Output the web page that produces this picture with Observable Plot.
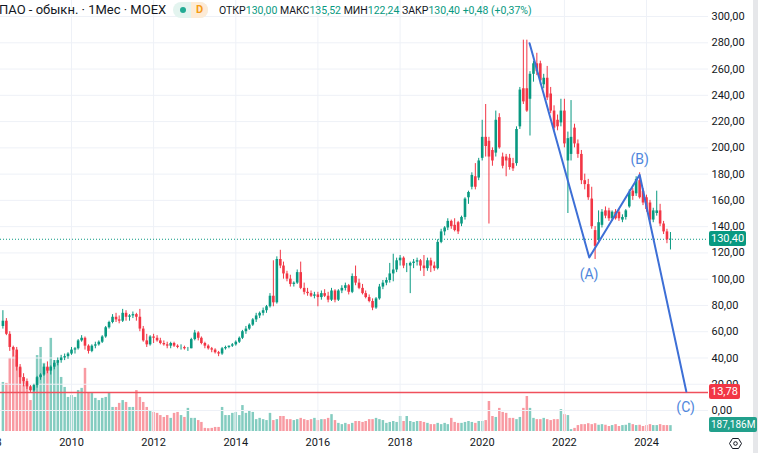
<!DOCTYPE html>
<html><head><meta charset="utf-8">
<script src="https://cdn.jsdelivr.net/npm/d3@7"></script>
<script src="https://cdn.jsdelivr.net/npm/@observablehq/plot@0.6"></script>
<style>
html,body{margin:0;padding:0;background:#fff;}
#wrap{position:relative;width:758px;height:453px;overflow:hidden;background:#fff;font-family:Roboto,"Noto Sans",sans-serif;}
#wrap svg{position:absolute;left:0;top:0;}
.hdr{position:absolute;top:2px;white-space:nowrap;color:#131722;}
.box{position:absolute;color:#fff;font-size:11px;line-height:15px;height:15px;padding:0 2px;border-radius:2px;white-space:nowrap;font-family:Roboto,sans-serif;}
.g{color:#089981}
</style>
</head><body>
<div id="wrap"></div>
<script>
// Monthly candles, May 2008 .. Aug 2024
const firstMonth = "2008-05-01";
const open = [
 64,68,58,48,46,33,25,22,
 18,15,19,25,27,33,30,33,36,38,40,41,
 43,46,47,53,55,49,45,49,50,52,56,63,
 67,71,69,68,74,71,72,73,71,62,53,50,
 56,55,53,51,50,49,51,49,48,48,47,47,
 54,59,55,51,49,47,46,44,43,47,48,49,
 50,52,55,60,62,65,69,72,74,76,79,87,
 82,115,110,104,100,96,97,105,93,90,89,87,
 88,86,89,87,84,91,84,91,93,95,90,102,
 97,93,89,86,83,78,85,94,97,99,104,107,
 114,116,110,110,112,113,114,110,108,114,110,108,
 128,136,139,144,141,143,142,147,162,170,178,177,
 192,208,205,198,196,223,193,193,192,188,188,216,
 245,245,237,256,264,264,248,253,241,228,221,219,
 228,190,195,215,203,195,175,172,161,137,130,141,
 152,152,146,151,151,145,147,155,167,165,175,167,
 162,158,145,150,152,142,136,130];
const high = [
 76,70,60,49,48,35,28,24,
 19,20,26,28,35,37,34,38,40,42,43,44,
 48,48,54,57,56,50,50,52,53,57,64,68,
 73,74,72,77,76,73,75,74,77,64,58,57,
 58,57,55,53,52,52,52,50,50,49,48,55,
 61,60,56,52,50,48,47,45,48,49,49,51,
 53,56,61,64,66,70,74,75,78,80,89,114,
 117,122,113,106,103,98,107,113,97,93,91,90,
 90,91,92,90,93,92,92,95,97,96,104,110,
 100,96,91,88,85,86,96,99,101,112,119,116,
 118,117,112,113,115,116,115,118,116,116,113,130,
 138,140,146,145,146,144,148,162,167,181,188,192,
 221,233,208,200,228,226,196,195,195,192,216,246,
 282,282,258,266,272,266,256,262,246,232,225,237,
 237,212,236,218,206,198,180,176,170,140,152,153,
 155,154,152,153,153,149,153,168,169,178,181,169,
 164,160,154,167,157,144,138,135.52];
const low = [
 62,57,45,41,30,20,18,16,
 13.8,14,17,23,26,28,27,31,34,36,38,39,
 42,43,46,52,46,43,44,47,49,51,55,62,
 66,67,66,67,68,68,70,68,60,52,48,49,
 51,52,50,49,47,47,48,47,46,46,45,47,
 53,53,50,47,46,44,43,41,42,46,47,48,
 49,51,54,58,61,64,67,70,72,74,78,79,
 81,108,100,98,94,94,96,92,88,87,86,85,
 79,84,86,82,83,82,83,89,91,88,89,95,
 92,88,85,82,76,77,84,92,95,97,98,105,
 110,108,105,89,108,110,106,102,106,105,106,107,
 127,133,137,138,136,134,140,145,157,168,168,175,
 190,193,142,186,193,199,184,178,183,182,186,214,
 233,227,209,250,255,248,245,236,226,213,213,216,
 200,150,190,200,192,172,168,160,138,115,127,139,
 146,144,144,145,144,143,145,154,160,163,161,156,
 151,143,143,148,140,134,127,122.24];
const close = [
 68,58,48,46,33,25,22,18,
 15,19,25,27,33,30,33,36,38,40,41,43,
 46,47,53,55,49,45,49,50,52,56,63,67,
 71,69,68,74,71,72,73,71,62,53,50,56,
 55,53,51,50,49,51,49,48,48,47,47,54,
 59,55,51,49,47,46,44,43,47,48,49,50,
 52,55,60,62,65,69,72,74,76,79,87,82,
 115,110,104,100,96,97,105,93,90,89,87,88,
 86,89,87,84,91,84,91,93,95,90,102,97,
 93,89,86,83,78,85,94,97,99,104,107,114,
 116,110,110,112,113,114,110,108,114,110,108,128,
 136,139,144,140,137,136,147,161,166,179,170,190,
 208,201,193,190,221,200,186,190,185,184,214,244,
 235,228,256,264,258,251,253,238,228,215,216,228,
 203,207,208,203,195,175,172,162,140,125,143,151,
 148,146,151,146,146,147,152,166,163,176,162,158,
 153,145,152,152,142,136,129.92,130.4];
// volume, millions of shares
const volume = [
 1570,1540,2340,2660,2430,2020,1730,1540,
 990,1310,2430,2690,2180,2020,2980,2270,2210,1730,1410,1090,
 1150,1090,1310,1380,2020,1220,1220,1060,990,1060,1090,1220,
 770,770,900,990,930,770,770,1310,1090,930,770,670,
 610,580,510,450,510,420,580,610,510,450,740,420,
 420,350,290,100,90,100,130,130,770,510,510,580,
 610,510,830,580,670,610,380,420,380,350,580,350,
 380,480,480,380,380,350,380,420,380,350,380,420,
 350,380,380,420,540,350,260,220,260,220,260,320,
 320,290,320,380,380,420,380,350,260,290,320,290,
 480,320,480,320,290,320,320,290,260,220,220,260,
 220,260,220,420,290,260,260,290,320,290,260,320,
 320,350,960,480,450,740,610,580,420,420,380,450,
 740,1120,740,420,380,380,420,380,350,380,380,700,
 540,510,60,100,190,220,220,250,220,250,200,220,
 200,160,190,220,160,190,200,260,220,190,200,160,
 190,220,190,190,220,190,190,187.186];

// Elliott wave annotation
const waveDates  = ["2021-02-25","2022-08-10","2023-11-01","2024-12-20"];
const waveValues = [279.7, 116.5, 179.5, 14.5];
const waveLabels = ["(A)","(B)","(C)"];
const waveLabelDates  = ["2022-08-08","2023-11-02","2024-12-14"];
const waveLabelValues = [103.5, 191, 2.3];

const targetLevel = 13.78;
const lastPrice = 130.40;
const yTicks = [0,20,40,60,80,100,120,140,160,180,200,220,240,260,280,300];
const yearTicks = [2008,2010,2012,2014,2016,2018,2020,2022,2024];

// ---------------------------------------------------------
const up = "#089981", dn = "#f23645";
const months = d3.utcMonth.range(new Date(firstMonth), d3.utcMonth.offset(new Date(firstMonth), open.length));
const bars = months.map((d,i)=>({date:d, o:open[i], h:high[i], l:low[i], c:close[i], v:volume[i], up: close[i] >= open[i]}));
const yearDates = yearTicks.map(y=>new Date(Date.UTC(y,0,1)));
const W = 758, H = 453, MR = 50, MB = 21;
const t2010 = Date.UTC(2010,0,1), t2024 = Date.UTC(2024,0,1);
const k = (t2024 - t2010)/(646-71);
const xDomain = [new Date(t2010 - 71*k), new Date(t2010 + (W-MR-71)*k)];
const fmt = v => d3.format(".2f")(v).replace(".", ",");

const vol = Plot.plot({
  width: W, height: H, marginLeft: 0, marginRight: MR, marginTop: 331, marginBottom: 22,
  style: {background:"transparent"},
  x: {type:"utc", domain: xDomain, axis: null},
  y: {domain:[0,3200], axis: null},
  marks: [
    Plot.ruleX(bars, {x:"date", y1:0, y2:"v", stroke: d=>d.up ? "#84ccc0" : "#f89aa2", strokeWidth: 2.5})
  ]
});

const wave = waveDates.map((d,i)=>({date:new Date(d), v:waveValues[i]}));
const waveLab = waveLabels.map((t,i)=>({date:new Date(waveLabelDates[i]), v:waveLabelValues[i], t}));

const price = Plot.plot({
  width: W, height: H, marginLeft: 0, marginRight: MR, marginTop: 0, marginBottom: MB,
  style: {background:"transparent", fontFamily:"Roboto, sans-serif", fontSize:"11px", color:"#131722"},
  x: {type:"utc", domain: xDomain},
  y: {domain:[-16.75, 312.2]},
  marks: [
    Plot.gridY(yTicks, {stroke:"#eef1f7", strokeOpacity:1}),
    Plot.gridX(yearDates, {stroke:"#eef1f7", strokeOpacity:1}),
    Plot.axisX(yearDates, {tickFormat: d=>String(d.getUTCFullYear()), tickSize:0, tickPadding:6, fill:"#131722"}),
    Plot.axisY(yTicks, {anchor:"right", tickFormat: fmt, tickSize:0, tickPadding:3, fill:"#131722"}),
    Plot.ruleY([lastPrice], {stroke: up, strokeDasharray:"1,2", strokeWidth:1}),
    Plot.ruleY([targetLevel], {stroke:"#f0505c", strokeWidth:1.5}),
    Plot.ruleX(bars, {x:"date", y1:"l", y2:"h", stroke: d=>d.up?up:dn, strokeWidth:1}),
    Plot.ruleX(bars, {x:"date", y1:"o", y2:"c", stroke: d=>d.up?up:dn, strokeWidth:2.6}),
    Plot.line(wave, {x:"date", y:"v", stroke:"#3d6fd6", strokeWidth:2}),
    Plot.text(waveLab, {x:"date", y:"v", text:"t", fill:"#4f86dc", fontSize:14})
  ]
});

const wrap = document.getElementById("wrap");
wrap.appendChild(vol);
wrap.appendChild(price);

// right strip (behind the labels)
const strip = document.createElement("div");
strip.style.cssText = "position:absolute;left:753px;top:0;width:5px;height:453px;background:#e6e7ea;";
wrap.appendChild(strip);

// price-axis labels
const ys = price.scale("y"), yv = vol.scale("y");
function box(txt, bg, yc, fs){
  const b = document.createElement("div");
  b.className = "box"; b.textContent = txt; b.style.background = bg;
  if (fs) b.style.fontSize = fs;
  b.style.left = (W-MR+1) + "px"; b.style.top = (yc - 7.5) + "px";
  wrap.appendChild(b);
}
box(fmt(lastPrice), up, ys.apply(lastPrice));
box(fmt(targetLevel), dn, ys.apply(targetLevel));
box(d3.format(",.3f")(volume[volume.length-1]).replace(".", ",") + "M", "#22a08c", yv.apply(volume[volume.length-1]) - 1, "10px");

// header legend
const h1 = document.createElement("div");
h1.className = "hdr"; h1.style.left = "-1px"; h1.style.fontSize = "13px";
h1.textContent = "ПАО - обыкн. · 1Мес · MOEX";
wrap.appendChild(h1);
const pill = document.createElement("div");
pill.style.cssText = "position:absolute;left:173px;top:2px;height:16px;width:35px;border-radius:8px;background:#e3f4ef;overflow:hidden;";
pill.innerHTML = '<div style="position:absolute;left:7px;top:5px;width:6px;height:6px;border-radius:3px;background:#22ab94"></div>'+
 '<div style="position:absolute;left:18px;top:0;width:17px;height:16px;background:#fdebd6;color:#f59b17;font-size:11px;line-height:16px;text-align:center;font-weight:bold">D</div>';
wrap.appendChild(pill);
const d = bars[bars.length-1], prev = bars[bars.length-2];
const ch = d.c - prev.c, pct = ch/prev.c*100;
const ohlc = document.createElement("div");
ohlc.className = "hdr"; ohlc.style.left = "219px"; ohlc.style.top = "4px"; ohlc.style.fontSize = "10.5px";
ohlc.innerHTML = `ОТКР<span class="g">${fmt(d.o)}</span> МАКС<span class="g">${fmt(d.h)}</span> МИН<span class="g">${fmt(d.l)}</span> ЗАКР<span class="g">${fmt(d.c)}</span> <span class="g">+${fmt(ch)} (+${fmt(pct)}%)</span>`;
wrap.appendChild(ohlc);

// settings icon
const gear = document.createElement("div");
gear.style.cssText = "position:absolute;left:729px;top:435px;width:13px;height:13px;";
gear.innerHTML = '<svg width="13" height="13" viewBox="0 0 13 13" style="position:static"><path d="M3.5 1.5h6l3 5-3 5h-6l-3-5z" fill="none" stroke="#131722" stroke-width="1"/><circle cx="6.5" cy="6.5" r="1.8" fill="none" stroke="#131722" stroke-width="1"/></svg>';
wrap.appendChild(gear);
</script>
</body></html>
